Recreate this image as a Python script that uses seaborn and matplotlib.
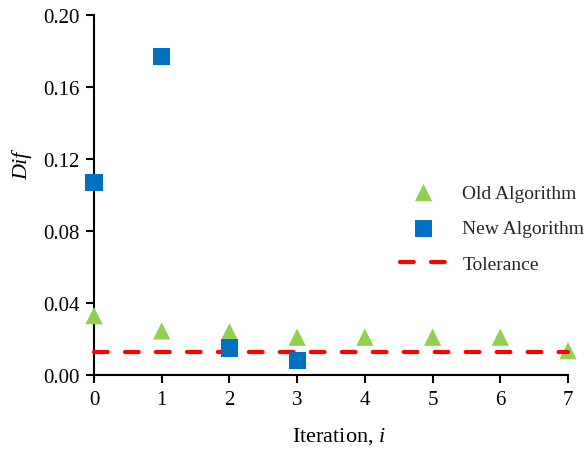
import matplotlib
matplotlib.use("Agg")
import matplotlib.pyplot as plt
import seaborn as sns
import pandas as pd
import numpy as np

iterations_old = [0, 1, 2, 3, 4, 5, 6, 7]
dif_old = [0.033, 0.0245, 0.024, 0.021, 0.021, 0.021, 0.021, 0.0135]
iterations_new = [0, 1, 2, 3]
dif_new = [0.107, 0.177, 0.015, 0.0083]
tol_x = [0, 7]
tol_y = [0.013, 0.013]
xticks = [0, 1, 2, 3, 4, 5, 6, 7]
yticks = [0.00, 0.04, 0.08, 0.12, 0.16, 0.20]

sns.set_theme(style="ticks")
plt.rcParams['font.family'] = ['Liberation Serif', 'DejaVu Serif']
plt.rcParams['mathtext.fontset'] = 'custom'
plt.rcParams['mathtext.it'] = 'Liberation Serif:italic'
plt.rcParams['mathtext.rm'] = 'Liberation Serif'
plt.rcParams['lines.scale_dashes'] = False

fig = plt.figure(figsize=(5.87, 4.52), dpi=100)
ax = fig.add_axes([94/587, 76/452, (568-94)/587, (376-16)/452])

df_old = pd.DataFrame({"x": iterations_old, "y": dif_old})
df_new = pd.DataFrame({"x": iterations_new, "y": dif_new})
df_tol = pd.DataFrame({"x": tol_x, "y": tol_y})

sns.lineplot(data=df_tol, x="x", y="y", ax=ax, color="#FF0000", linewidth=3.0,
             label="Tolerance", zorder=4, clip_on=False)
tol_line = ax.lines[-1]
tol_line.set_linestyle((0, (9.9, 12.4)))
tol_line.set_dash_capstyle('round')
sns.scatterplot(data=df_old, x="x", y="y", ax=ax, marker="^", s=155, color="#92D050",
                edgecolor="none", label="Old Algorithm", zorder=3, clip_on=False)
sns.scatterplot(data=df_new, x="x", y="y", ax=ax, marker="s", s=150, color="#0070C0",
                edgecolor="none", label="New Algorithm", zorder=5, clip_on=False)

ax.set_xlim(0, 7)
ax.set_ylim(0, 0.20)
ax.set_xticks(xticks)
ax.set_yticks(yticks)
ax.set_yticklabels([f"{v:.2f}" for v in yticks])
ax.tick_params(axis='both', direction='out', length=5.5, width=1.5, labelsize=15,
               colors='black', pad=5)
for s in ['left', 'bottom']:
    ax.spines[s].set_linewidth(1.5)
    ax.spines[s].set_color('black')
    ax.spines[s].set_zorder(2)
for s in ['top', 'right']:
    ax.spines[s].set_visible(False)

ax.set_xlabel("Iteration, $\\it{i}$", fontsize=16, color='black')
ax.set_ylabel("Dif", fontsize=16, style='italic', color='black')
ax.xaxis.set_label_coords((339-94)/474, -(426-376)/360)
ax.yaxis.set_label_coords(-(94-32)/474, (376-166)/360)

handles, labels = ax.get_legend_handles_labels()
order = [labels.index("Old Algorithm"), labels.index("New Algorithm"), labels.index("Tolerance")]
leg = ax.legend([handles[i] for i in order], [labels[i] for i in order],
                loc='upper left', bbox_to_anchor=((400-94)/474, (376-185)/360), frameon=False,
                fontsize=14, labelspacing=0.93, handlelength=2.42, handletextpad=0.78,
                borderaxespad=0, borderpad=0)

fig.savefig("out.png", dpi=100)
